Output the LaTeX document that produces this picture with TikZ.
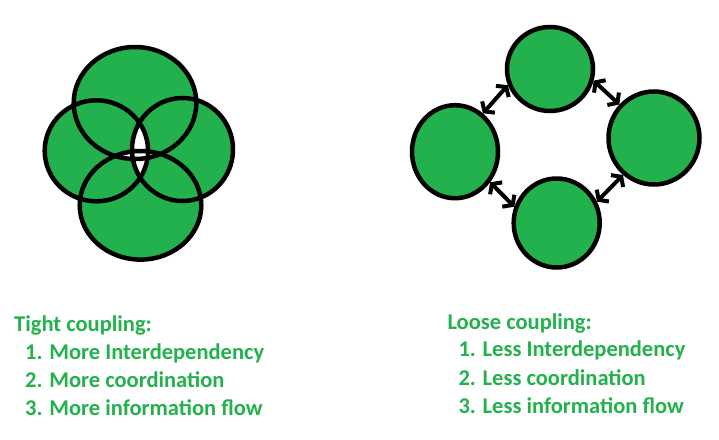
\documentclass[tikz,border=0pt]{standalone}
\usepackage{fontspec}
\setmainfont{Carlito}
\usepackage{tikz}
\usetikzlibrary{positioning,arrows.meta,shapes.geometric}
\definecolor{paintgreen}{RGB}{34,177,76}

\begin{document}
\begin{tikzpicture}[x=1pt,y=-1pt,
    blob/.style={ellipse, draw=black, line width=4.5pt, fill=paintgreen, inner sep=0pt},
    link/.style={{Straight Barb[length=6pt,width=17pt]}-{Straight Barb[length=6pt,width=17pt]}, line width=4pt},
    caption/.style={anchor=base west, inner sep=0pt, text=paintgreen,
        font=\fontsize{22.5}{27}\selectfont\bfseries}]
\useasboundingbox (0,0) rectangle (719,439);
% tight coupling: four overlapping blobs
\foreach \cx/\cy/\rx/\ry in {135/103/61.3/56, 96.4/150.8/51.7/50.5,
        182.5/149.5/50.5/51.5, 140.5/205.3/60.8/54.3}
    \fill[paintgreen] (\cx,\cy) ellipse [x radius=\rx, y radius=\ry];
\begin{scope}
    \clip (96.4,150.8) ellipse [x radius=51.7, y radius=50.5];
    \fill[white] (182.5,149.5) ellipse [x radius=50.5, y radius=51.5];
\end{scope}
\begin{scope}
    \clip (135,103) ellipse [x radius=61.3, y radius=56];
    \fill[white] (140.5,205.3) ellipse [x radius=60.8, y radius=54.3];
\end{scope}
\foreach \cx/\cy/\rx/\ry in {135/103/61.3/56, 96.4/150.8/51.7/50.5,
        182.5/149.5/50.5/51.5, 140.5/205.3/60.8/54.3}
    \draw[line width=4.5pt] (\cx,\cy) ellipse [x radius=\rx, y radius=\ry];
% loose coupling
\node[blob, minimum width=86pt, minimum height=84pt] (loosetop) at (550,69) {};
\node[blob, minimum width=86pt, minimum height=93pt] (looseleft) at (455,151.7) {};
\node[blob, minimum width=91pt, minimum height=93pt] (looseright) at (654,138) {};
\node[blob, minimum width=86pt, minimum height=89pt] (loosebottom) at (556.7,223) {};
\draw[link] (looseleft.54) -- (loosetop.201);
\draw[link] (loosetop.345) -- (looseright.136);
\draw[link] (looseright.230) -- (loosebottom.28);
\draw[link] (loosebottom.159) -- (looseleft.319);

\node[caption] (tighthead) at (14,331) {Tight coupling:};
\node[caption] (tightone) at (25,359) {1. More Interdependency};
\node[caption] (tighttwo) at (25,387.3) {2. More coordination};
\node[caption] (tightthree) at (25,415.7) {3. More information flow};
\node[caption] (loosehead) at (447.3,329.3) {Loose coupling:};
\node[caption] (looseone) at (458.3,356.7) {1. Less Interdependency};
\node[caption] (loosetwo) at (458.3,385) {2. Less coordination};
\node[caption] (loosethree) at (458.3,413.3) {3. Less information flow};
\end{tikzpicture}
\end{document}
